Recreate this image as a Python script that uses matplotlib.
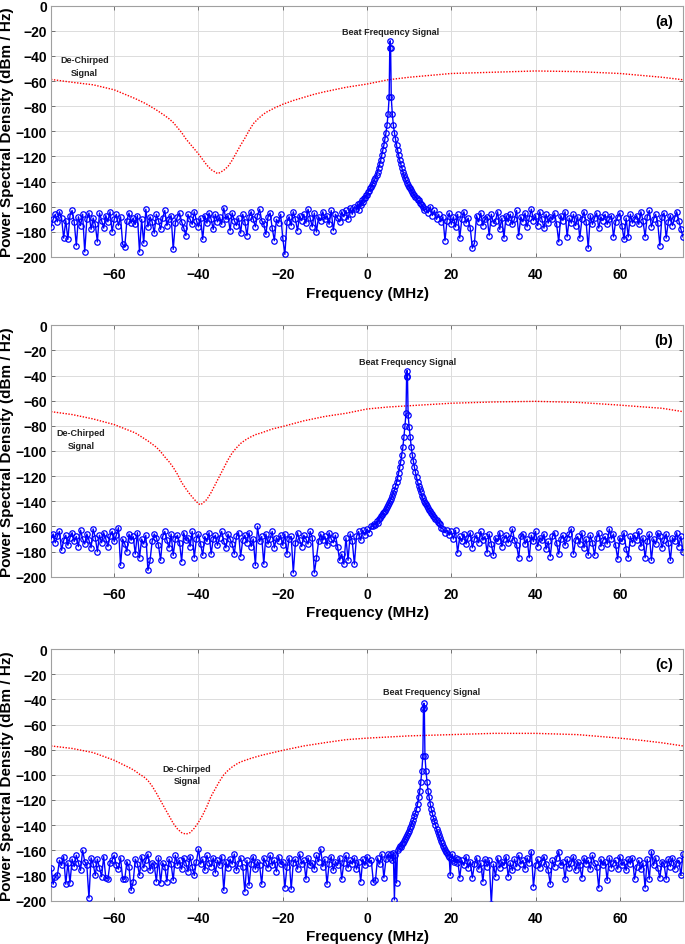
import numpy as np
import matplotlib
matplotlib.use("Agg")
import matplotlib.pyplot as plt

plt.rcParams['font.family'] = ['Liberation Sans', 'DejaVu Sans']
plt.rcParams['font.weight'] = 'bold'

# offsets (MHz) of the finely sampled points around each beat peak
pk_off = np.concatenate([np.arange(-8, 0, 0.25), [-0.1, 0.0, 0.1], np.arange(0.25, 8.01, 0.25)])

# ---------------- panel (a) ----------------
peak_a = 5.5
noise_a_left = [
    -176, -170, -166, -172, -164, -169, -185, -171, -186, -167,
    -163, -172, -191, -168, -175, -166, -196, -170, -165, -178,
    -169, -174, -188, -165, -171, -177, -167, -172, -164, -180,
    -170, -166, -175, -168, -190, -192, -171, -165, -173, -169,
    -174, -167, -196, -170, -189, -162, -176, -168, -172, -181,
    -166, -171, -178, -169, -163, -175, -170, -167, -194, -173,
    -168, -165, -172, -177, -183, -166, -170, -174, -164, -171,
    -176, -169, -186, -167, -173, -165, -170, -178, -166, -172,
    -168, -174, -161, -170, -167, -179, -165, -171, -175, -169,
    -181, -166, -172, -183, -168, -164, -170, -176, -167, -162,
    -171, -174, -182, -168, -165, -177, -187, -170, -173, -166,
    -185, -198, -172, -168, -175, -164, -170, -179, -167, -171,
    -166, -173, -162, -169, -176, -165, -180, -168, -171, -164,
    -170, -167, -174, -163, -179, -166, -169, -172, -164, -168,
    -163, -170, -161, -166, -160]
pk_a = [
    -162, -158, -163, -157, -159, -155, -156, -153, -153, -151,
    -151, -148, -147.5, -145.5, -144, -142.5, -141, -139, -137, -134.5,
    -132, -129, -126, -123, -119, -115, -111, -106, -101, -95, -86, -73,
    -34, -28, -34,
    -73, -86, -95, -101, -106, -111, -115, -119, -123, -126, -129, -132,
    -134.5, -137, -139, -141, -142.5, -144, -145.5, -147, -148.5, -150,
    -151, -152.5, -153, -154.5, -155, -157, -157.5, -159, -160, -163]
noise_a_right = [
    -162, -165, -160, -167, -163, -170, -166, -172, -168, -187,
    -171, -165, -174, -168, -176, -166, -185, -170, -164, -173,
    -169, -177, -193, -189, -167, -172, -165, -175, -170, -168,
    -183, -166, -173, -171, -164, -178, -169, -185, -167, -172,
    -166, -174, -170, -163, -183, -168, -172, -165, -176, -169,
    -162, -171, -167, -175, -164, -170, -177, -166, -173, -168,
    -170, -165, -174, -188, -167, -171, -164, -184, -169, -173,
    -166, -175, -168, -185, -170, -164, -172, -193, -167, -174,
    -169, -165, -177, -168, -171, -166, -174, -170, -167, -184,
    -172, -168, -165, -175, -186, -169, -184, -166, -173, -170,
    -167, -174, -164, -171, -184, -168, -163, -176, -170, -166,
    -173, -191, -168, -165, -185, -172, -167, -175, -169, -164,
    -171, -178, -184]
red_a_f = [-75, -70, -65, -60, -55, -52.5, -50, -48, -47, -46, -45, -44, -43, -42, -41,
           -40, -39, -38, -37, -36, -35.5, -35, -34, -33, -32, -31, -30, -29, -28, -27,
           -26, -25, -24, -22, -20, -17.5, -15, -12.5, -10, -5, 0, 5, 10, 15, 20, 30,
           40, 50, 60, 65, 70, 75]
red_a_p = [-58.7, -61, -63, -67, -74, -78, -83, -87.5, -90, -93, -97, -101, -106, -110, -114,
           -118, -122.5, -127, -130.5, -132.5, -133.6, -133, -131, -128, -123, -117, -111, -105.5, -99.5, -94,
           -90.5, -87.5, -85, -81.5, -78.5, -75.5, -73, -70.5, -68.5, -65, -62.4, -59, -57, -55.5, -54, -53,
           -52, -52.5, -54, -55.5, -57, -59]

# ---------------- panel (b) ----------------
peak_b = 9.5
noise_b_left = [
    -170, -166, -173, -168, -164, -179, -171, -167, -175, -169,
    -165, -172, -168, -176, -163, -170, -174, -166, -171, -177,
    -162, -169, -180, -167, -173, -165, -170, -176, -168, -164,
    -172, -167, -161, -191, -170, -174, -180, -166, -171, -168,
    -182, -165, -185, -170, -174, -167, -195, -187, -172, -166,
    -169, -175, -187, -168, -164, -171, -177, -166, -183, -170,
    -167, -173, -188, -165, -171, -169, -176, -164, -185, -170,
    -166, -174, -183, -168, -172, -165, -182, -170, -167, -175,
    -169, -164, -172, -177, -166, -170, -174, -182, -168, -165,
    -184, -171, -167, -173, -165, -176, -170, -191, -160, -172,
    -168, -190, -166, -174, -170, -164, -177, -169, -172, -167,
    -175, -166, -182, -170, -168, -197, -173, -165, -171, -176,
    -167, -170, -174, -164, -169, -197, -185, -172, -166, -171,
    -168, -175, -165, -170, -173, -167, -176, -187, -182, -190,
    -169, -187, -166, -172, -190, -168, -164, -171, -163, -167,
    -162, -165, -160]
pk_b = [
    -160, -158, -158.5, -156, -157, -154, -153.5, -152, -151, -149.5,
    -148.5, -147.5, -146, -144.5, -143, -141.5, -140, -138, -136, -133.5,
    -131, -128, -125, -121.5, -117.5, -113, -108.5, -103, -97, -89, -80, -70,
    -40, -36, -41,
    -71, -81, -89, -97, -103, -108, -113, -117, -121, -124.5, -127.5, -130.5,
    -133, -135.5, -137.5, -139.5, -141, -142.5, -144, -145.5, -147, -148,
    -149.5, -150.5, -152, -152.5, -154, -155, -156.5, -157, -158, -161]
noise_b_right = [
    -162, -165, -163, -167, -164, -170, -163, -181, -168, -172,
    -166, -174, -169, -165, -177, -170, -167, -173, -164, -171,
    -168, -181, -166, -174, -183, -169, -172, -165, -176, -170,
    -167, -173, -169, -162, -171, -175, -185, -168, -166, -174,
    -170, -185, -167, -172, -164, -176, -169, -171, -166, -178,
    -172, -184, -168, -165, -173, -182, -170, -167, -175, -169,
    -166, -162, -182, -171, -168, -174, -165, -177, -170, -183,
    -167, -173, -183, -169, -165, -176, -171, -168, -174, -162,
    -170, -166, -175, -186, -169, -172, -165, -178, -185, -168,
    -173, -167, -171, -164, -176, -169, -185, -172, -166, -187,
    -170, -174, -165, -168, -177, -171, -166, -173, -187, -169,
    -172, -165, -176, -168, -180]
red_b_f = [-75, -70, -65, -60, -55, -52, -51, -50, -49, -48, -47, -46, -45, -44, -43,
           -42, -41, -40, -39.5, -39, -38, -37, -36, -35, -34, -33, -32, -31, -30, -29,
           -28, -26.5, -25, -22.5, -20, -15, -10, -5, 0, 5, 10, 20, 30, 40, 50, 60,
           65, 70, 75]
red_b_p = [-68.7, -71, -74.5, -79, -85.6, -92, -94.5, -97, -100.5, -104.7, -108.5, -113, -118.5, -125, -130,
           -134.6, -138.5, -142, -142.8, -141.5, -138.5, -133, -126.5, -120, -113.5, -107, -101.5, -97.5, -94, -91.5,
           -89.5, -87, -85.5, -82.5, -80.5, -76, -72.5, -70, -66.6, -65, -64, -62, -61, -60.5, -61.3, -63.5,
           -64.8, -66, -68.7]

# ---------------- panel (c) ----------------
peak_c = 13.5
noise_c_left = [
    -174, -187, -181, -180, -168, -172, -165, -187, -170, -186,
    -167, -173, -164, -170, -176, -160, -169, -172, -198, -166,
    -171, -180, -167, -174, -181, -165, -182, -183, -170, -168,
    -164, -172, -175, -166, -183, -183, -169, -173, -192, -185,
    -167, -171, -180, -165, -174, -168, -163, -176, -170, -172,
    -185, -166, -186, -170, -173, -185, -167, -171, -184, -164,
    -172, -168, -175, -166, -170, -177, -165, -173, -180, -169,
    -159, -171, -167, -176, -164, -170, -173, -166, -178, -168,
    -172, -165, -192, -169, -174, -167, -171, -163, -176, -170,
    -166, -173, -193, -168, -188, -171, -165, -175, -169, -172,
    -187, -166, -170, -174, -164, -172, -168, -177, -165, -171,
    -169, -190, -173, -166, -191, -170, -167, -175, -163, -171,
    -168, -183, -166, -172, -170, -175, -164, -169, -159, -173,
    -167, -187, -171, -165, -176, -169, -172, -166, -183, -170,
    -164, -174, -168, -171, -166, -175, -169, -185, -167, -172,
    -165, -170, -168, -185, -184, -166, -171, -163, -182, -167,
    -163]
pk_c = [
    -166, -163, -168, -162, -199.5, -164, -186, -160, -158.5, -157,
    -157.5, -155, -154, -152.5, -151, -149.5, -148, -146, -144.5, -142.5,
    -140.5, -138, -136, -133, -130, -127, -123, -118, -113, -106, -97, -85,
    -48, -43, -47,
    -85, -97, -106, -113, -118, -123, -127, -130.5, -134, -137, -140, -143,
    -145.5, -148, -150.5, -152.5, -154.5, -156.5, -158, -159.5, -161, -162.5,
    -163.5, -165, -180, -167, -163, -168, -169, -166, -170, -167]
noise_c_right = [
    -182, -168, -172, -165, -174, -169, -182, -171, -166, -175,
    -170, -185, -167, -173, -168, -203, -171, -181, -166, -174,
    -169, -172, -165, -181, -170, -176, -167, -173, -164, -171,
    -168, -175, -166, -170, -161, -189, -172, -167, -174, -169,
    -165, -171, -176, -187, -168, -173, -166, -161, -172, -169,
    -183, -167, -174, -170, -165, -176, -169, -172, -182, -166,
    -171, -168, -175, -164, -170, -173, -190, -167, -172, -169,
    -184, -166, -174, -170, -168, -175, -165, -172, -169, -176,
    -167, -171, -166, -183, -173, -168, -175, -170, -190, -167,
    -183, -161, -172, -166, -174, -182, -169, -171, -183, -167,
    -173, -166, -175, -170, -168, -180, -163]
red_c_f = [-75, -70, -65, -60, -56, -55, -54, -53, -52, -51, -50, -49, -48, -47, -46,
           -45, -44, -43, -42, -41, -40, -39, -38, -37, -36, -35, -34, -33, -32, -31,
           -30, -27.5, -25, -20, -15, -10, -5, 0, 10, 20, 30, 40, 50, 60, 65, 70, 75]
red_c_p = [-77, -79, -82.3, -88.4, -95, -97, -99.5, -101.5, -104.5, -109, -114.5, -120.5, -126.6, -132.5, -138.5,
           -143, -146, -147.2, -146, -142.5, -137.7, -132, -125, -117, -111, -105, -100, -96.5, -93.7, -91.5,
           -89.7, -86.8, -84.4, -80.5, -77, -74.4, -72, -70.8, -69, -68, -67, -67, -68, -70.8, -72.5, -74.5, -77]

panels = [
    dict(tag='(a)', left=noise_a_left, pk=pk_a, right=noise_a_right, center=peak_a,
         rf=red_a_f, rp=red_a_p, beat=(5.5, -20.5), dech=(-67, -48)),
    dict(tag='(b)', left=noise_b_left, pk=pk_b, right=noise_b_right, center=peak_b,
         rf=red_b_f, rp=red_b_p, beat=(9.7, -28.4), dech=(-67.9, -90.6)),
    dict(tag='(c)', left=noise_c_left, pk=pk_c, right=noise_c_right, center=peak_c,
         rf=red_c_f, rp=red_c_p, beat=(15.2, -33.8), dech=(-42.7, -99.8)),
]
bottoms = [0.7270, 0.3887, 0.0460]

fig = plt.figure(figsize=(6.85, 9.45), dpi=100)

for d, b in zip(panels, bottoms):
    ax = fig.add_axes([0.0745, b, 0.9226, 0.266])
    lf = -75 + 0.5 * np.arange(len(d['left']))
    rf = 75 - 0.5 * np.arange(len(d['right']))[::-1]
    f = np.concatenate([lf, d['center'] + pk_off, rf])
    p = np.concatenate([d['left'], d['pk'], d['right']])

    ax.plot(d['rf'], d['rp'], color='red', linestyle=(0, (1, 1.1)), linewidth=1.0, zorder=2)
    ax.plot(f, p, color='blue', linewidth=1.0, marker='o', markersize=3.9,
            markerfacecolor='none', markeredgewidth=0.9, zorder=3)

    ax.set_xlim(-75, 75)
    ax.set_ylim(-200, 0)
    ax.set_xticks([-60, -40, -20, 0, 20, 40, 60])
    ax.set_yticks(np.arange(-200, 1, 20))
    ax.grid(True, color='#dcdcdc', linewidth=0.7)
    ax.set_axisbelow(True)
    for s in ax.spines.values():
        s.set_color('#a0a0a0')
        s.set_linewidth(0.8)
    ax.tick_params(direction='in', length=3, width=0.6, color='#606060',
                   top=True, right=True, labelsize=10)
    ax.tick_params(axis='x', pad=7.5)
    ax.tick_params(axis='y', pad=3)
    ax.set_xlabel('Frequency (MHz)', fontsize=11, fontweight='bold', labelpad=3)
    ax.set_ylabel('Power Spectral Density (dBm / Hz)', fontsize=11, fontweight='bold', labelpad=1)

    ax.text(d['beat'][0], d['beat'][1], 'Beat Frequency Signal', fontsize=6.5,
            fontweight='bold', color='#222222', ha='center', va='center')
    ax.text(d['dech'][0], d['dech'][1], 'De-Chirped\nSignal', fontsize=6.5,
            fontweight='bold', color='#222222', ha='center', va='center', linespacing=1.5)
    ax.text(0.984, 0.94, d['tag'], transform=ax.transAxes, fontsize=10.5,
            fontweight='bold', ha='right', va='center')

fig.savefig('out.png', dpi=100)
